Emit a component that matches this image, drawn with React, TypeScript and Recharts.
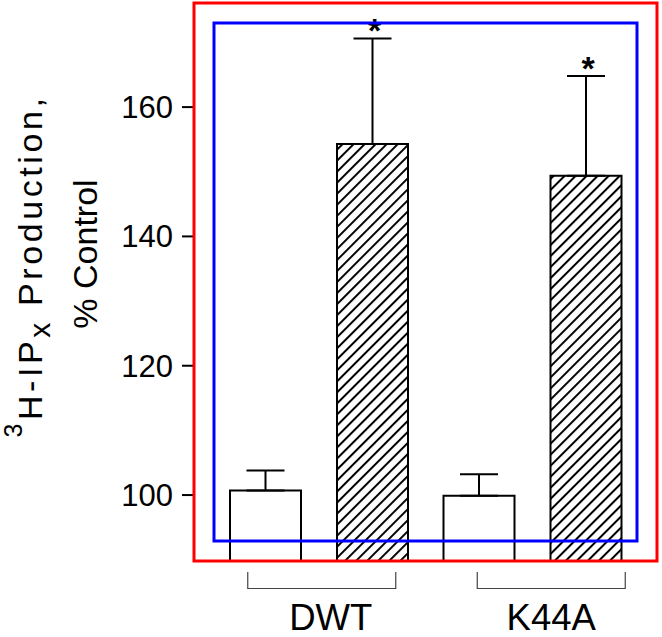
import React from 'react';
import { BarChart, Bar, XAxis, YAxis, ErrorBar, LabelList } from 'recharts';

const groups = ['DWT', 'K44A'];
const controlValues = [100.7, 99.9];
const controlErrors = [3.1, 3.3];
const treatedValues = [154.3, 149.4];
const treatedErrors = [16.3, 15.4];
const significance = ['*', '*'];
const yTicks = [100, 120, 140, 160];
const Y_DOMAIN: [number, number] = [89.8, 176.1];

const data = groups.map((g, i) => ({
  group: g,
  control: controlValues[i],
  controlErr: [0, controlErrors[i]],
  treated: treatedValues[i],
  treatedErr: [0, treatedErrors[i]],
}));

const FONT = '"Liberation Sans", Arial, Helvetica, sans-serif';
const BRACKET_SHIFT: Record<string, number> = { DWT: 3, K44A: 19 };
const LABEL_SHIFT: Record<string, number> = { DWT: 12, K44A: 19 };

const W = 662;
const H = 637;
const MARGIN = { top: 3, right: 5, left: 0, bottom: 0 };
const Y_AXIS_W = 194;
const X_AXIS_H = 76;
const PLOT = {
  left: MARGIN.left + Y_AXIS_W,
  top: MARGIN.top,
  right: W - MARGIN.right,
  bottom: H - MARGIN.bottom - X_AXIS_H,
};

const GroupTick = (props: any) => {
  const { x, y, payload } = props;
  const name = payload.value;
  const bx = x + (BRACKET_SHIFT[name] || 0);
  const hw = 74;
  return (
    <g>
      <path
        d={`M${bx - hw},${y + 11} V${y + 27.5} H${bx + hw} V${y + 11}`}
        fill="none"
        stroke="#444"
        strokeWidth={1.2}
      />
      <text
        x={x + (LABEL_SHIFT[name] || 0)}
        y={y + 69}
        textAnchor="middle"
        fontSize={36.5}
        fontFamily={FONT}
        fill="#000"
      >
        {name}
      </text>
    </g>
  );
};

const Star = (props: any) => {
  const vb = props.viewBox && props.viewBox.width !== undefined ? props.viewBox : props;
  const { x, y, width, height } = vb;
  const index = props.index;
  const v = treatedValues[index];
  const e = treatedErrors[index];
  const pxPerUnit = height / (v - Y_DOMAIN[0]);
  const capY = y - e * pxPerUnit;
  return (
    <text
      x={x + width / 2 + 2}
      y={capY + 3.5}
      textAnchor="middle"
      fontSize={34}
      fontWeight="bold"
      fontFamily={FONT}
      fill="#000"
    >
      {significance[index]}
    </text>
  );
};

export default function App() {
  return (
    <div style={{ position: 'absolute', left: 0, top: 0, width: W, height: H, background: '#fff' }}>
      <svg width={0} height={0} style={{ position: 'absolute' }}>
        <defs>
          <pattern id="hatch" patternUnits="userSpaceOnUse" width={7.8} height={7.8} patternTransform="rotate(45)">
            <rect width={7.8} height={7.8} fill="#fff" />
            <line x1={1} y1={0} x2={1} y2={7.8} stroke="#000" strokeWidth={2} />
          </pattern>
        </defs>
      </svg>
      <BarChart
        width={W}
        height={H}
        data={data}
        margin={MARGIN}
        barSize={71}
        barGap={36}
        barCategoryGap={18}
      >
        <XAxis
          dataKey="group"
          height={X_AXIS_H}
          padding={{ left: 18, right: 18 }}
          axisLine={{ stroke: '#000', strokeWidth: 2 }}
          tickLine={false}
          tickSize={0}
          tickMargin={0}
          interval={0}
          tick={<GroupTick />}
        />
        <YAxis
          type="number"
          width={Y_AXIS_W}
          domain={Y_DOMAIN}
          ticks={yTicks}
          allowDataOverflow
          tickSize={12}
          tickMargin={9}
          axisLine={{ stroke: '#000', strokeWidth: 2 }}
          tickLine={{ stroke: '#000', strokeWidth: 2 }}
          tick={{ fontSize: 31, fill: '#000', fontFamily: FONT }}
        />
        <Bar dataKey="control" fill="#fff" stroke="#000" strokeWidth={2} isAnimationActive={false}>
          <ErrorBar dataKey="controlErr" width={19} stroke="#000" strokeWidth={2} />
        </Bar>
        <Bar dataKey="treated" fill="url(#hatch)" stroke="#000" strokeWidth={2} isAnimationActive={false}>
          <ErrorBar dataKey="treatedErr" width={19} stroke="#000" strokeWidth={2} />
          <LabelList dataKey="treated" content={<Star />} />
        </Bar>
      </BarChart>
      <svg width={W} height={H} style={{ position: 'absolute', left: 0, top: 0, pointerEvents: 'none' }}>
        <rect
          x={PLOT.left}
          y={PLOT.top}
          width={PLOT.right - PLOT.left}
          height={PLOT.bottom - PLOT.top}
          fill="none"
          stroke="red"
          strokeWidth={3}
        />
        <rect x={PLOT.left + 20} y={PLOT.top + 20} width={PLOT.right - PLOT.left - 40} height={PLOT.bottom - PLOT.top - 40} fill="none" stroke="blue" strokeWidth={3} />
        <text
          transform="translate(42,266) rotate(-90)"
          textAnchor="middle"
          fontSize={34}
          fontFamily={FONT}
          letterSpacing={3.6}
          fill="#000"
        >
          <tspan fontSize={25} dy={-20}>3</tspan>
          <tspan dy={20}>H-IP</tspan>
          <tspan fontSize={30} dy={8}>x</tspan>
          <tspan dy={-8}> Production,</tspan>
        </text>
        <text
          transform="translate(97,254) rotate(-90)"
          textAnchor="middle"
          fontSize={34}
          fontFamily={FONT}
          fill="#000"
        >
          % Control
        </text>
      </svg>
    </div>
  );
}
